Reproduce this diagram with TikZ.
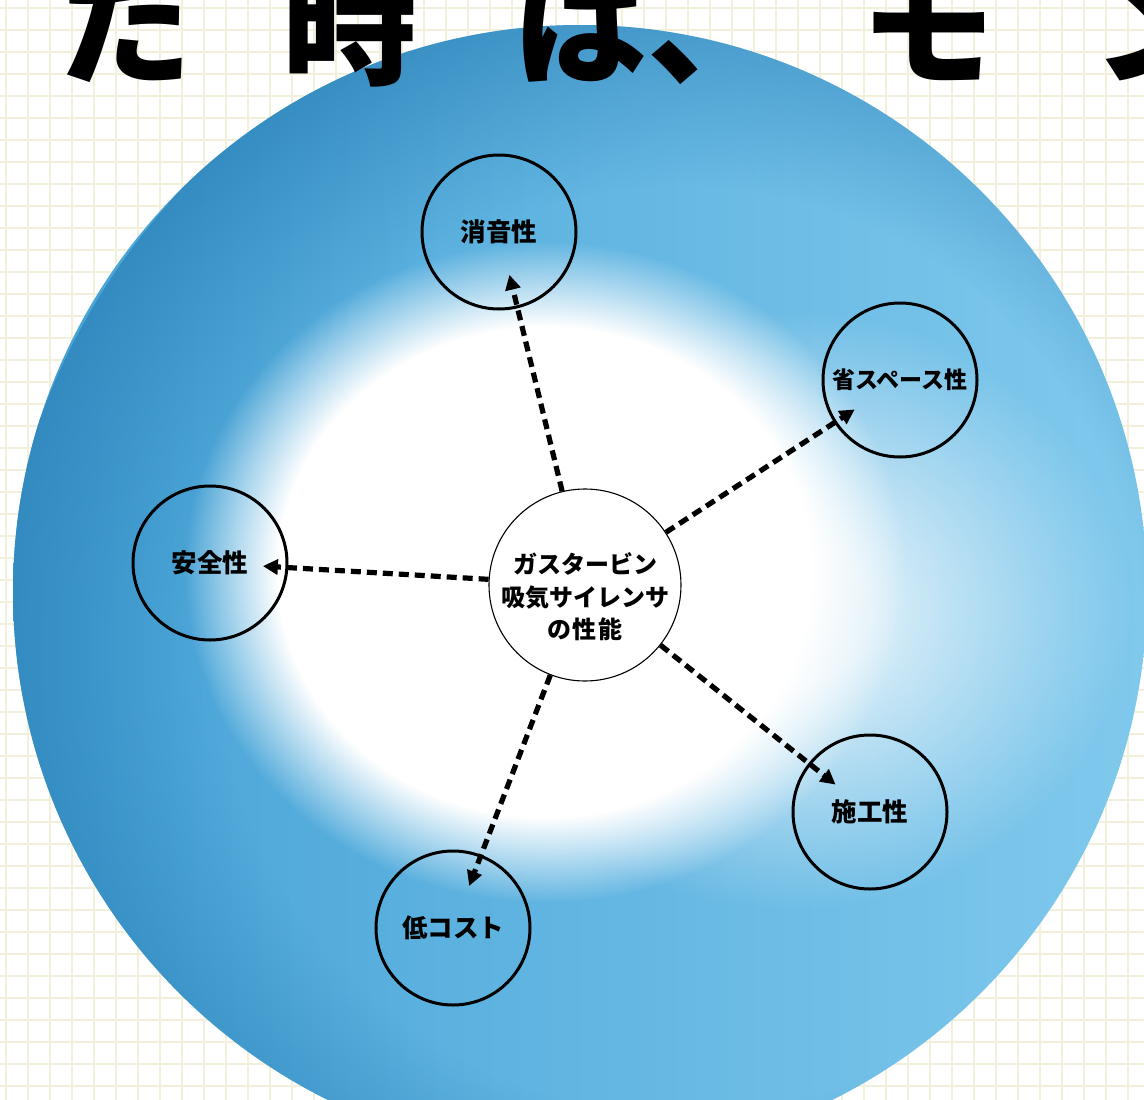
\documentclass[tikz,border=0pt]{standalone}
\usepackage{fontspec}
\newfontfamily\jp{Noto Sans CJK JP}
\usetikzlibrary{arrows.meta,fadings,calc}
\definecolor{gridc}{HTML}{F2EFDA}
\definecolor{blmid}{HTML}{5AB7E2}
\definecolor{blleft}{HTML}{45A2D6}
\definecolor{blright}{HTML}{80C9ED}
\definecolor{bldark}{HTML}{2C82B8}
\pgfdeclareradialshading{blobsh}{\pgfpointorigin}{color(0bp)=(white); color(18.5bp)=(white); color(25bp)=(black); color(50bp)=(black)}
\pgfdeclarefading{blobfade}{\pgfuseshading{blobsh}}
\pgfdeclareradialshading{glowsh}{\pgfpointorigin}{color(0bp)=(white); color(6bp)=(white); color(25bp)=(black); color(50bp)=(black)}
\pgfdeclarefading{glowfade}{\pgfuseshading{glowsh}}
\pgfdeclareradialshading{rimsh}{\pgfpointorigin}{color(0bp)=(black); color(17bp)=(black); color(25bp)=(white); color(50bp)=(white)}
\pgfdeclarefading{rimfade}{\pgfuseshading{rimsh}}
\begin{document}
\begin{tikzpicture}[x=1pt,y=-1pt,
  gridline/.style={draw=gridc, line width=1.6pt},
  bigtxt/.style={font=\jp\bfseries\fontsize{135}{135}\selectfont, inner sep=0pt, text=black},
  hub/.style={circle, draw=black, line width=1.1pt, fill=white, minimum size=192pt, inner sep=0pt,
    font=\jp\bfseries\fontsize{24}{32.5}\selectfont},
  outer/.style={circle, draw=black, line width=3pt, minimum size=154pt, inner sep=0pt,
    font=\jp\bfseries\fontsize{25.5}{30}\selectfont},
  arr/.style={line width=5.2pt, dash pattern=on 10pt off 6pt, -{Triangle[length=15pt,width=15pt]}}]
\useasboundingbox (0,0) rectangle (1144,1100);
\fill[white] (0,0) rectangle (1144,1100);
\foreach \x in {6,28,...,1144} \draw[gridline] (\x,0) -- (\x,1100);
\foreach \y in {8,30,...,1100} \draw[gridline] (0,\y) -- (1144,\y);
% big watercolour disc
\begin{scope}
  \clip (580,592) circle (567);
  \shade[left color=blleft, middle color=blmid, right color=blright] (13,25) rectangle (1147,1160);
  \fill[bldark, path fading=rimfade, opacity=0.75] (680,650) circle (680);
  \fill[white, path fading=glowfade, opacity=0.75] (790,610) ellipse (340 and 300);
  \fill[white, path fading=blobfade] (545,572) ellipse (360 and 330);
\end{scope}
% top title
\node[bigtxt, anchor=base] (t1) at (125,74) {た};
\node[bigtxt, anchor=base] (t2) at (350,74) {時};
\node[bigtxt, anchor=base west] (t3) at (512,74) {は、};
\node[bigtxt, anchor=base] (t4) at (928,74) {モ};
\node[bigtxt, anchor=base] (t5) at (1160,74) {ン};
% nodes
\node[hub] (c) at (585,585) {\raisebox{-21pt}[0pt][0pt]{\begin{tabular}{@{}c@{}}ガスタービン\\吸気サイレンサ\\の\kern2pt性\kern2pt能\end{tabular}}};
\node[outer] (s1) at (499,232) {消音性};
\node[outer, font=\jp\bfseries\fontsize{23}{28}\selectfont] (s2) at (900,380) {省スペース性};
\node[outer] (s3) at (210,563) {安全性};
\node[outer] (s4) at (453,928) {低コスト};
\node[outer] (s5) at (870,812) {施工性};
% arrows
\draw[arr] (c) -- ($(s1)!44pt!(c)$);
\draw[arr] (c) -- ($(s2)!54pt!(c)$);
\draw[arr] (c) -- ($(s3)!53pt!(c)$);
\draw[arr] (c) -- ($(s4)!45pt!(c)$);
\draw[arr] (c) -- ($(s5)!44pt!(c)$);
\end{tikzpicture}
\end{document}
